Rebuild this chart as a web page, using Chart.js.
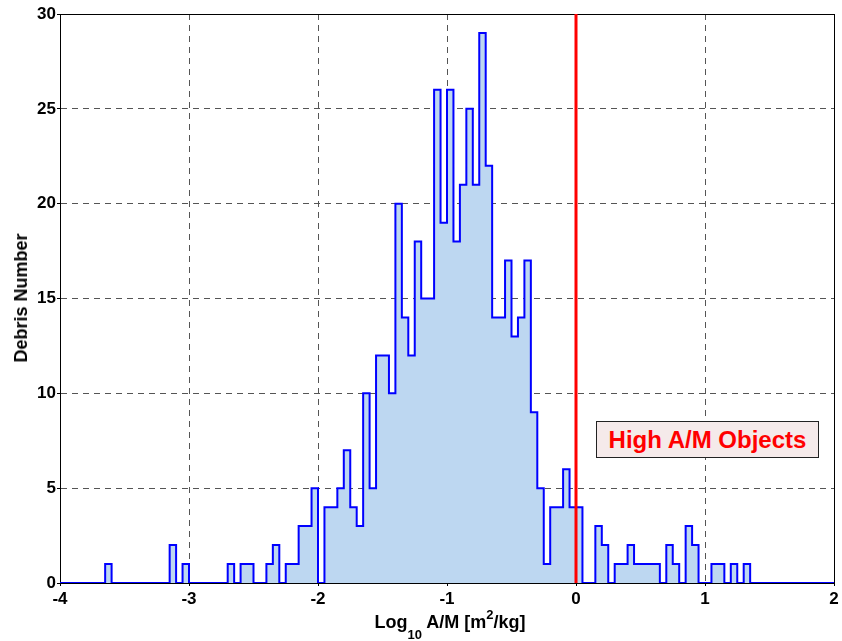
<!DOCTYPE html>
<html>
<head>
<meta charset="utf-8">
<script src="https://cdn.jsdelivr.net/npm/chart.js@4"></script>
<style>
  body { margin: 0; background: #fff; }
  #wrap { position: relative; width: 842px; height: 641px; font-family: "Liberation Sans", Arial, sans-serif; }
  #ytitle {
    position: absolute; left: 21px; top: 298px;
    transform: translate(-50%, -50%) rotate(-90deg);
    font-weight: bold; font-size: 18px; white-space: nowrap; line-height: 18px;
  }
  #xtitle {
    position: absolute; left: 450px; top: 613px; transform: translateX(-50%);
    font-weight: bold; font-size: 18px; white-space: nowrap; line-height: 18px;
  }
  #xtitle sub { font-size: 13px; line-height: 0; vertical-align: -11px; }
  #xtitle sup { font-size: 13px; line-height: 0; vertical-align: 9px; }
  #note {
    position: absolute; left: 596px; top: 421px; width: 223px; height: 37px;
    box-sizing: border-box; border: 1px solid #222; background: #f5eaea;
    color: #ff0000; font-weight: bold; font-size: 24px; line-height: 35px; text-align: center;
  }
</style>
</head>
<body>
<div id="wrap">
  <canvas id="hist" width="842" height="641"></canvas>
  <div id="ytitle">Debris Number</div>
  <div id="xtitle">Log<sub>10</sub> A/M [m<sup>2</sup>/kg]</div>
  <div id="note">High A/M Objects</div>
</div>
<script>
// histogram bins: left edge of first bin and bin width (log10 A/M)
const binStart = -4;
const binWidth = 0.05;

// debris count per bin
const debrisCounts = [
  0, 0, 0, 0, 0, 0, 0, 1, 0, 0,
  0, 0, 0, 0, 0, 0, 0, 2, 0, 1,
  0, 0, 0, 0, 0, 0, 1, 0, 1, 1,
  0, 0, 1, 2, 0, 1, 1, 3, 3, 5,
  0, 4, 4, 5, 7, 4, 3, 10, 5, 12,
  12, 10, 20, 14, 12, 18, 15, 15, 26, 19,
  26, 18, 21, 25, 21, 29, 22, 14, 14, 17,
  13, 14, 17, 9, 5, 1, 4, 4, 6, 4,
  4, 0, 0, 3, 2, 0, 1, 1, 2, 1,
  1, 1, 1, 0, 2, 1, 0, 3, 2, 0,
  0, 1, 1, 0, 1, 0, 1, 0, 0, 0,
  0, 0, 0, 0, 0, 0, 0, 0, 0, 0
];

const xTicks = [-4, -3, -2, -1, 0, 1, 2];
const yTicks = [0, 5, 10, 15, 20, 25, 30];
const thresholdX = 0;

function histPoints() {
  const pts = debrisCounts.map((c, i) => ({ x: binStart + i * binWidth, y: c }));
  pts.push({ x: binStart + debrisCounts.length * binWidth, y: 0 });
  return pts;
}

// solid box round the plot area (MATLAB style)
const boxPlugin = {
  id: "box",
  beforeDatasetsDraw(chart) {
    const { ctx, chartArea: a } = chart;
    ctx.save();
    ctx.strokeStyle = "#000";
    ctx.lineWidth = 1;
    ctx.strokeRect(Math.round(a.left) + 0.5, Math.round(a.top) + 0.5,
      Math.round(a.right - a.left), Math.round(a.bottom - a.top));
    ctx.restore();
  },
};

const tickFont = { family: "'Liberation Sans', Arial, sans-serif", size: 17, weight: "bold" };

new Chart(document.getElementById("hist").getContext("2d"), {
  type: "line",
  data: {
    datasets: [
      {
        data: [
          { x: thresholdX, y: yTicks[0] },
          { x: thresholdX, y: yTicks[yTicks.length - 1] },
        ],
        borderColor: "#ff0000",
        borderWidth: 3,
        pointRadius: 0,
        fill: false,
      },
      {
        data: histPoints(),
        stepped: "before",
        borderColor: "#0000ff",
        borderWidth: 2,
        backgroundColor: "#bdd7f1",
        pointRadius: 0,
        fill: "origin",
      },
    ],
  },
  options: {
    responsive: false,
    animation: false,
    layout: { padding: { top: 14, right: 8, left: 0, bottom: 0 } },
    plugins: { legend: { display: false }, tooltip: { enabled: false } },
    scales: {
      x: {
        type: "linear",
        min: xTicks[0],
        max: xTicks[xTicks.length - 1],
        afterBuildTicks: (s) => { s.ticks = xTicks.map((v) => ({ value: v })); },
        afterFit: (s) => { s.height = 58; },
        grid: { color: "#555", lineWidth: 1, tickLength: 3, tickColor: "#000" },
        border: { display: true, color: "#000", dash: [6, 5] },
        ticks: { color: "#000", font: tickFont, padding: 3, maxRotation: 0 },
      },
      y: {
        type: "linear",
        min: yTicks[0],
        max: yTicks[yTicks.length - 1],
        afterBuildTicks: (s) => { s.ticks = yTicks.map((v) => ({ value: v })); },
        afterFit: (s) => { s.width = 60; },
        grid: { color: "#555", lineWidth: 1, tickLength: 3, tickColor: "#000" },
        border: { display: true, color: "#000", dash: [6, 5] },
        ticks: { color: "#000", font: tickFont, padding: 1 },
      },
    },
  },
  plugins: [boxPlugin],
});
</script>
</body>
</html>
